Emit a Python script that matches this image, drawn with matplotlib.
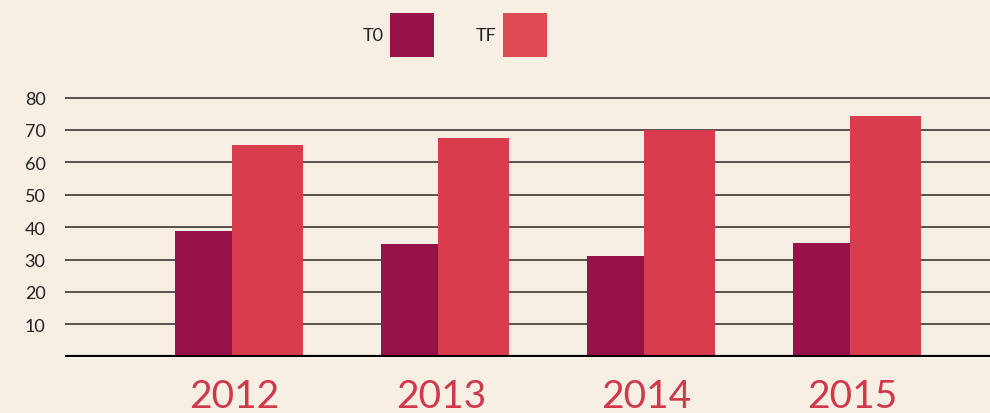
import matplotlib.pyplot as plt
from matplotlib.patches import Rectangle

# data
years = ['2012', '2013', '2014', '2015']
t0 = [38.8, 34.8, 31.0, 35.0]
tf = [65.2, 67.5, 70.1, 74.3]
yticks = [10, 20, 30, 40, 50, 60, 70, 80]

bg = '#F7EFE3'
c_t0 = '#98124A'
c_tf = '#D93C4C'
c_year = '#D0384B'

plt.rcParams['font.family'] = ['Lato', 'DejaVu Sans']

fig = plt.figure(figsize=(9.9, 4.14), dpi=100, facecolor=bg)
ax = fig.add_axes([65 / 990, 56.3 / 414, 925 / 990, 262.4 / 414], facecolor=bg)

# bar widths in group units (one group step = 206 px)
w0 = 57 / 206
w1 = 71 / 206
x = list(range(len(years)))
ax.bar([i for i in x], t0, width=w0, align='edge', color=c_t0, zorder=3)
ax.bar([i + w0 for i in x], tf, width=w1, align='edge', color=c_tf, zorder=3)

ax.set_xlim(-110 / 206, 815 / 206)
ax.set_ylim(0, 81)

# gridlines
for v in yticks:
    ax.axhline(v, color='#4a4640', lw=1.3, zorder=1)
ax.axhline(0, color='black', lw=3, zorder=4)

ax.set_yticks(yticks)
ax.set_yticklabels([str(v) for v in yticks], fontsize=13, color='#222222')
ax.tick_params(axis='y', length=0, pad=14)

ax.set_xticks([i + 0.29 for i in x])
ax.set_xticklabels(years, fontsize=28, color=c_year)
ax.tick_params(axis='x', length=0, pad=15)

for s in ax.spines.values():
    s.set_visible(False)

# legend drawn by hand: label then square
def px(xp, yp):
    return xp / 990, 1 - yp / 414

for label, color, tx, sx in [('T0', c_t0, 384, 390), ('TF', '#E04A55', 497, 503)]:
    fx, fy = px(sx, 58)
    fig.add_artist(Rectangle((fx, fy), 44 / 990, 44 / 414, transform=fig.transFigure,
                             facecolor=color, edgecolor='none'))
    tx_, ty_ = px(tx, 36)
    fig.text(tx_, ty_, label, ha='right', va='center', fontsize=13, color='#222222')

fig.savefig('out.png', dpi=100, facecolor=bg)
